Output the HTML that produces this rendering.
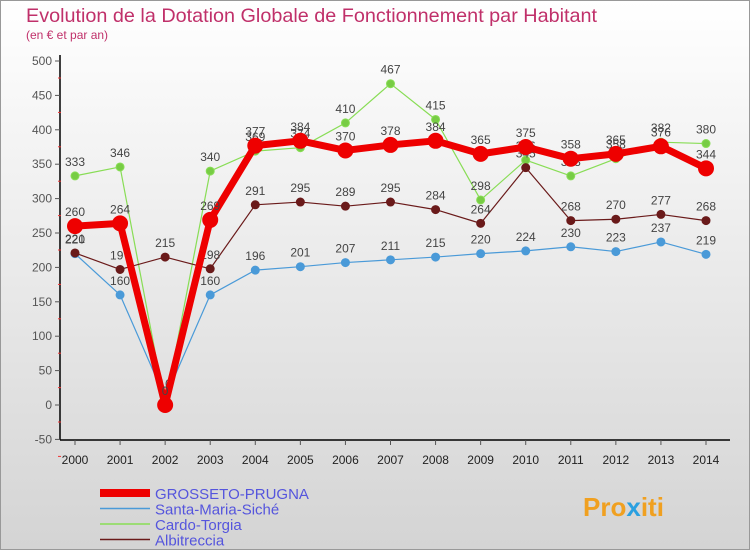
<!DOCTYPE html>
<html><head><meta charset="utf-8"><style>
body{margin:0;width:750px;height:550px;overflow:hidden;font-family:"Liberation Sans",sans-serif}
</style></head><body>
<svg width="750" height="550" xmlns="http://www.w3.org/2000/svg">
<defs><linearGradient id="bg" x1="0" y1="0" x2="0" y2="1"><stop offset="0" stop-color="#ffffff"/><stop offset="1" stop-color="#d4d4d4"/></linearGradient></defs>
<rect x="0.5" y="0.5" width="749" height="549" fill="url(#bg)" stroke="#999"/>
<text x="26" y="22" font-size="19.8" fill="#c0306a" textLength="571">Evolution de la Dotation Globale de Fonctionnement par Habitant</text>
<text x="26" y="39" font-size="12" fill="#c0306a">(en € et par an)</text>
<g id="axes"></g>
<g id="series"></g>
<g id="legend"></g>
<text x="583" y="516" font-size="26" font-weight="bold" fill="#f0a020">Pro<tspan fill="#2aa0e0">x</tspan>iti</text>
</svg>
<script>
const years=[2000,2001,2002,2003,2004,2005,2006,2007,2008,2009,2010,2011,2012,2013,2014];
const yTicks=[-50,0,50,100,150,200,250,300,350,400,450,500];
const grosseto=[260,264,0,269,377,384,370,378,384,365,375,358,365,376,344];
const santa=[220,160,10,160,196,201,207,211,215,220,224,230,223,237,219];
const cardo=[333,346,0,340,369,374,410,467,415,298,356,333,358,382,380];
const albi=[221,197,215,198,291,295,289,295,284,264,345,268,270,277,268];
const NS="http://www.w3.org/2000/svg";
const X=i=>75+i*(706-75)/14;
const Y=v=>405-v*0.688;
function mk(tag,attrs,parent){const e=document.createElementNS(NS,tag);for(const k in attrs)e.setAttribute(k,attrs[k]);parent.appendChild(e);return e;}
const axes=document.getElementById('axes');
let ax=mk('line',{x1:60,y1:55,x2:60,y2:440,stroke:'#000','stroke-width':1.5},axes);


let bx=mk('line',{x1:60,y1:440,x2:730,y2:440,stroke:'#000','stroke-width':1.5},axes);


yTicks.forEach(v=>{
  mk('line',{x1:55,y1:Y(v),x2:60,y2:Y(v),stroke:'#555'},axes);
  mk('line',{x1:58,y1:Y(v)+17,x2:61,y2:Y(v)+17,stroke:'#e33'},axes);
  const t=mk('text',{x:52,y:Y(v)+4,'text-anchor':'end','font-size':12,fill:'#555'},axes);
  
  
  t.textContent=v;
});
years.forEach((yr,i)=>{
  mk('line',{x1:X(i),y1:440,x2:X(i),y2:445,stroke:'#555'},axes);
  const t=mk('text',{x:X(i),y:464,'text-anchor':'middle','font-size':12,fill:'#222'},axes);
  
  
  t.textContent=yr;
});
const sg=document.getElementById('series');
function drawSeries(vals,color,w,r,name,fill){
  const g=mk('g',{},sg);
  
  
  mk('polyline',{points:vals.map((v,i)=>X(i)+','+Y(v)).join(' '),fill:'none',stroke:color,'stroke-width':w,'stroke-linejoin':'round'},g);
  vals.forEach((v,i)=>{
    const c=mk('circle',{cx:X(i),cy:Y(v),r:r,fill:fill,stroke:color,'stroke-width':1},g);
    
    
    const t=mk('text',{x:X(i),y:Y(v)-10,'text-anchor':'middle','font-size':12,fill:'#444'},g);
    
    
    t.textContent=v;
  });
}
drawSeries(santa,'#4a9ad8',1.2,4,'santa-maria-series','#4a9ad8');
drawSeries(cardo,'#88dd55',1.2,4,'cardo-torgia-series','#77cc44');
drawSeries(albi,'#6a1a1a',1.2,4,'albitreccia-series','#6a1a1a');
drawSeries(grosseto,'#ee0000',7,7.5,'grosseto-series','#ee0000');
const lg=document.getElementById('legend');
const items=[['GROSSETO-PRUGNA','#ee0000',8],['Santa-Maria-Siché','#4a9ad8',1.5],['Cardo-Torgia','#88dd55',1.5],['Albitreccia','#6a1a1a',1.5]];
items.forEach((it,i)=>{
  const y=493+i*15.5;
  const g=mk('g',{},lg);
  
  
  mk('line',{x1:100,y1:y,x2:150,y2:y,stroke:it[1],'stroke-width':it[2]},g);
  const t=mk('text',{x:155,y:y+6,'font-size':15,fill:'#5555dd'},g);
  t.textContent=it[0];
});
</script>
</body></html>
